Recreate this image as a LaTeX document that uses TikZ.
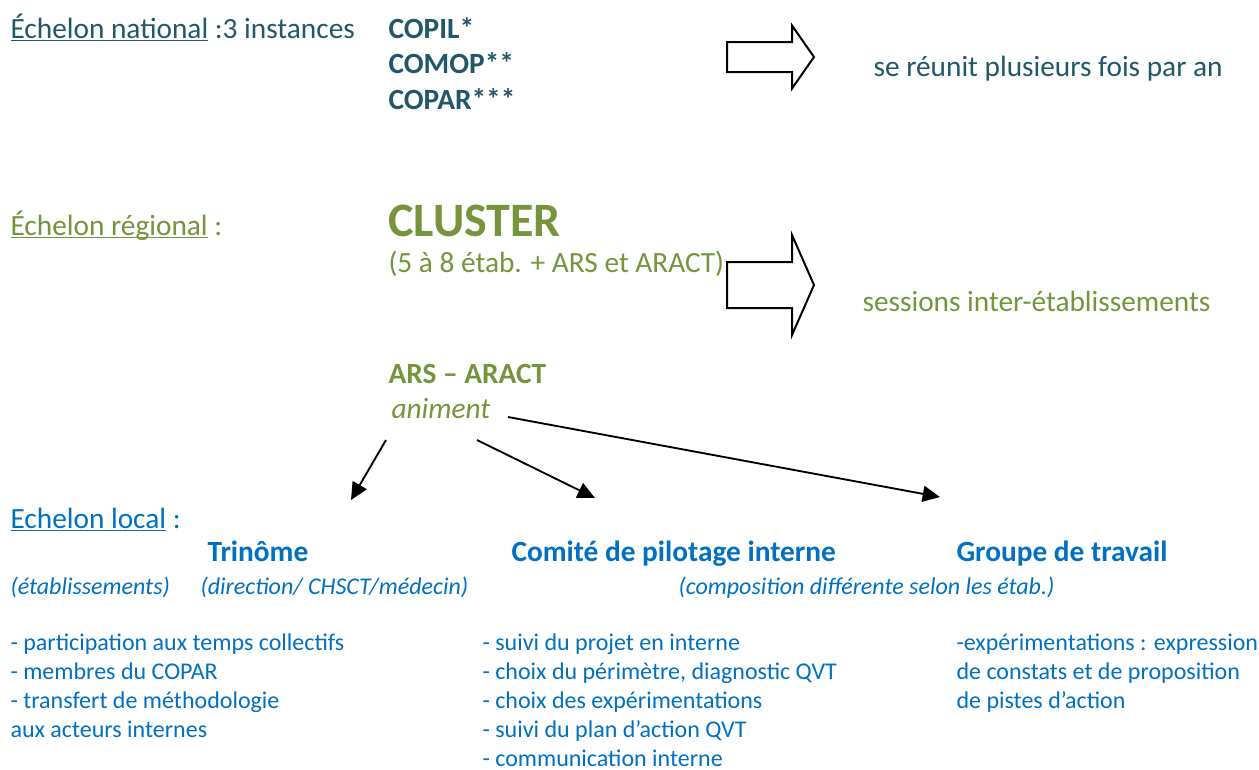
\documentclass[tikz,border=0pt]{standalone}
\usepackage{fontspec}
\setmainfont{Carlito}
\usetikzlibrary{arrows.meta}
\definecolor{national}{HTML}{215868}
\definecolor{regional}{HTML}{77933C}
\definecolor{local}{HTML}{0070C0}
\newcommand\souligne[1]{\setbox0\hbox{#1}\rlap{\rule[-1.3pt]{\wd0}{0.6pt}}\box0\relax}
\tikzset{
  txt/.style={anchor=base west, inner sep=0pt, font=\fontsize{11}{13.4}\selectfont},
  nat/.style={txt, text=national},
  reg/.style={txt, text=regional},
  loc/.style={txt, text=local},
  head/.style={font=\fontsize{11}{13.4}\selectfont\bfseries},
  big/.style={font=\fontsize{18}{22}\selectfont\bfseries},
  body/.style={loc, font=\fontsize{9}{11}\selectfont},
  note/.style={loc, font=\fontsize{9}{11}\selectfont\itshape},
  fleche/.style={-{Triangle[length=6.5pt,width=6pt]}, line width=0.7pt}
}

\begin{document}
\begin{tikzpicture}[x=0.375pt,y=-0.375pt]
\useasboundingbox (0,0) rectangle (1259,769);
% national
\node[nat] (national) at (10,38) {\souligne{Échelon national} :3 instances};
\node[nat,head] (copil) at (388,38) {COPIL*};
\node[nat,head] (comop) at (388,73.5) {COMOP**};
\node[nat,head] (copar) at (388,109) {COPAR***};
\node[nat] (reunit) at (873,76) {se réunit plusieurs fois par an};
% regional
\node[reg] (regional) at (10,235) {\souligne{Échelon régional} :};
\node[reg,big] (cluster) at (388,236) {CLUSTER};
\node[reg] (etab) at (388,272) {(5 à 8 étab. + ARS et ARACT)};
\node[reg] (sessions) at (862,311) {sessions inter-établissements};
\node[reg,head] (ars) at (388,383) {ARS – ARACT};
\node[reg,font=\fontsize{11}{13.4}\selectfont\itshape] (animent) at (391,418) {animent};
% block arrows
\foreach \y/\s/\h in {57/15/31.5,285/23/50}
  \draw[line width=0.75pt] (727,\y-\s) -- (792,\y-\s) -- (792,\y-\h) -- (814,\y)
    -- (792,\y+\h) -- (792,\y+\s) -- (727,\y+\s) -- cycle;
% local
\node[loc] (local) at (10,528) {\souligne{Echelon local} :};
\node[loc,head] (trinome) at (207,561) {Trinôme};
\node[loc,head] (comite) at (511,561) {Comité de pilotage interne};
\node[loc,head] (groupe) at (956,561) {Groupe de travail};
\node[note] (etabs) at (10,594) {(établissements)};
\node[note] (direction) at (200,594) {(direction/ CHSCT/médecin)};
\node[note] (compo) at (678,594) {(composition différente selon les étab.)};
\foreach \t [count=\i from 0] in {{- participation aux temps collectifs},{- membres du COPAR},
    {- transfert de méthodologie},{aux acteurs internes}}
  \node[body] (tri\i) at (10,650+29.2*\i) {\t};
\foreach \t [count=\i from 0] in {{- suivi du projet en interne},{- choix du périmètre, diagnostic QVT},
    {- choix des expérimentations},{- suivi du plan d’action QVT},{- communication interne}}
  \node[body] (com\i) at (482,650+29.2*\i) {\t};
\foreach \t [count=\i from 0] in {{-expérimentations : expression},{de constats et de proposition},
    {de pistes d’action}}
  \node[body] (grp\i) at (956,650+29.2*\i) {\t};
% arrows from ARS - ARACT
\coordinate (depA) at (386,440);
\coordinate (depB) at (477,440);
\coordinate (depC) at (508,417);
\coordinate (finA) at (351,500);
\coordinate (finB) at (595,498);
\coordinate (finC) at (940,497);
\draw[fleche] (depA) -- (finA);
\draw[fleche] (depB) -- (finB);
\draw[fleche] (depC) -- (finC);
\end{tikzpicture}
\end{document}
